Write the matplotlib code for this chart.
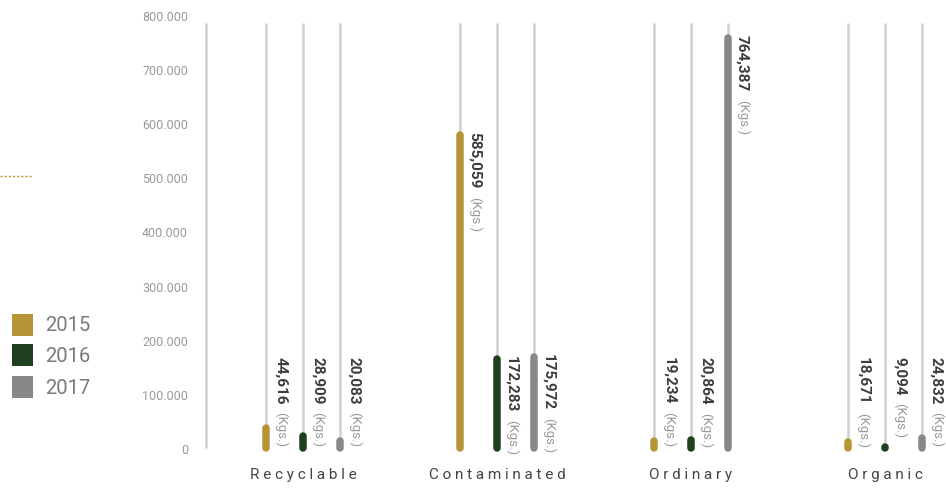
import matplotlib
matplotlib.use("Agg")
import matplotlib.pyplot as plt
from matplotlib.patches import Rectangle
from matplotlib.lines import Line2D
from matplotlib.ticker import FuncFormatter

# ---- data -------------------------------------------------------------
categories = ["Recyclable", "Contaminated", "Ordinary", "Organic"]
years = ["2015", "2016", "2017"]
values_2015 = [44616, 585059, 19234, 18671]
values_2016 = [28909, 172283, 20864, 9094]
values_2017 = [20083, 175972, 764387, 24832]
y_ticks = [0, 100000, 200000, 300000, 400000, 500000, 600000, 700000, 800000]
unit_label = "(Kgs.)"

series = [values_2015, values_2016, values_2017]
colors = ["#B59535", "#1F3F1F", "#888888"]

# ---- styling constants ------------------------------------------------
W, H, DPI = 946, 489, 100
TRACK_COLOR = "#D0D0D0"
TRACK_TOP = 785000
LABEL_MIN_TOP = 170000
BAR_PX = 7.5
TRACK_PX = 2.5
GROUP_OFFSET = 0.19

plt.rcParams["font.family"] = ["Roboto", "DejaVu Sans"]

fig = plt.figure(figsize=(W / DPI, H / DPI), dpi=DPI)
ax_left, ax_right = 206, W
ax_top, ax_bottom = 16, 449
ax = fig.add_axes([ax_left / W, 1 - ax_bottom / H,
                   (ax_right - ax_left) / W, (ax_bottom - ax_top) / H])
ax.set_xlim(0, (ax_right - ax_left) / 194)
ax.set_ylim(0, 800000)
for s in ax.spines.values():
    s.set_visible(False)
ax.set_xticks([])
ax.set_yticks(y_ticks)
ax.yaxis.set_major_formatter(
    FuncFormatter(lambda v, _: f"{v:,.0f}".replace(",", ".")))
ax.tick_params(axis="y", length=0, pad=13, labelsize=9, labelcolor="#999999")

px_per_unit = (ax_bottom - ax_top) / 800000
cap_r = (BAR_PX / 2) / px_per_unit
lw_bar = BAR_PX * 72 / DPI
lw_track = TRACK_PX * 72 / DPI

# left axis line drawn as a track
ax.plot([0, 0], [0, TRACK_TOP], color=TRACK_COLOR, lw=lw_track,
        solid_capstyle="butt", clip_on=False, zorder=1)

number_texts = []
for gi, cat in enumerate(categories):
    center = gi + 0.5
    for si, vals in enumerate(series):
        x = center + (si - 1) * GROUP_OFFSET
        v = vals[gi]
        ax.plot([x, x], [0, TRACK_TOP], color=TRACK_COLOR, lw=lw_track,
                solid_capstyle="butt", clip_on=False, zorder=1)
        ax.plot([x, x], [0, v - cap_r], color=colors[si], lw=lw_bar,
                solid_capstyle="round", clip_on=False, zorder=2)
        top = max(v, LABEL_MIN_TOP)
        t = ax.annotate(f"{v:,}", xy=(x, top), xytext=(14.5, 0),
                        textcoords="offset pixels", rotation=-90,
                        ha="center", va="top", fontsize=11,
                        fontweight="bold", color="#3C3C3C", zorder=3)
        number_texts.append((t, x, top))
    ax.annotate(" ".join(cat), xy=(center, 0), xycoords=("data", "data"),
                xytext=(0, -26), textcoords="offset pixels",
                ha="center", va="center", fontsize=11,
                color="#444444", annotation_clip=False)

fig.canvas.draw()
renderer = fig.canvas.get_renderer()
for t, x, top in number_texts:
    ext = t.get_window_extent(renderer)
    ax.annotate(unit_label, xy=(x, top), xytext=(14.5, -(ext.height + 8)),
                textcoords="offset pixels", rotation=-90,
                ha="center", va="top", fontsize=9.5,
                color="#999999", zorder=3)

# legend
legend_y = [326, 356, 388]
for year, col, yc in zip(years, colors, legend_y):
    fig.add_artist(Rectangle((12 / W, 1 - (yc + 11) / H), 21 / W, 22 / H,
                             transform=fig.transFigure, color=col, lw=0))
    fig.text(45 / W, 1 - yc / H, year, ha="left", va="center",
             fontsize=14.5, color="#7A7A7A")

# dotted accent line
fig.add_artist(Line2D([0, 33 / W], [1 - 177 / H] * 2, transform=fig.transFigure,
                      color="#B59535", lw=1.0, linestyle=(0, (1.5, 1.5))))

fig.savefig("out.png", dpi=DPI)
